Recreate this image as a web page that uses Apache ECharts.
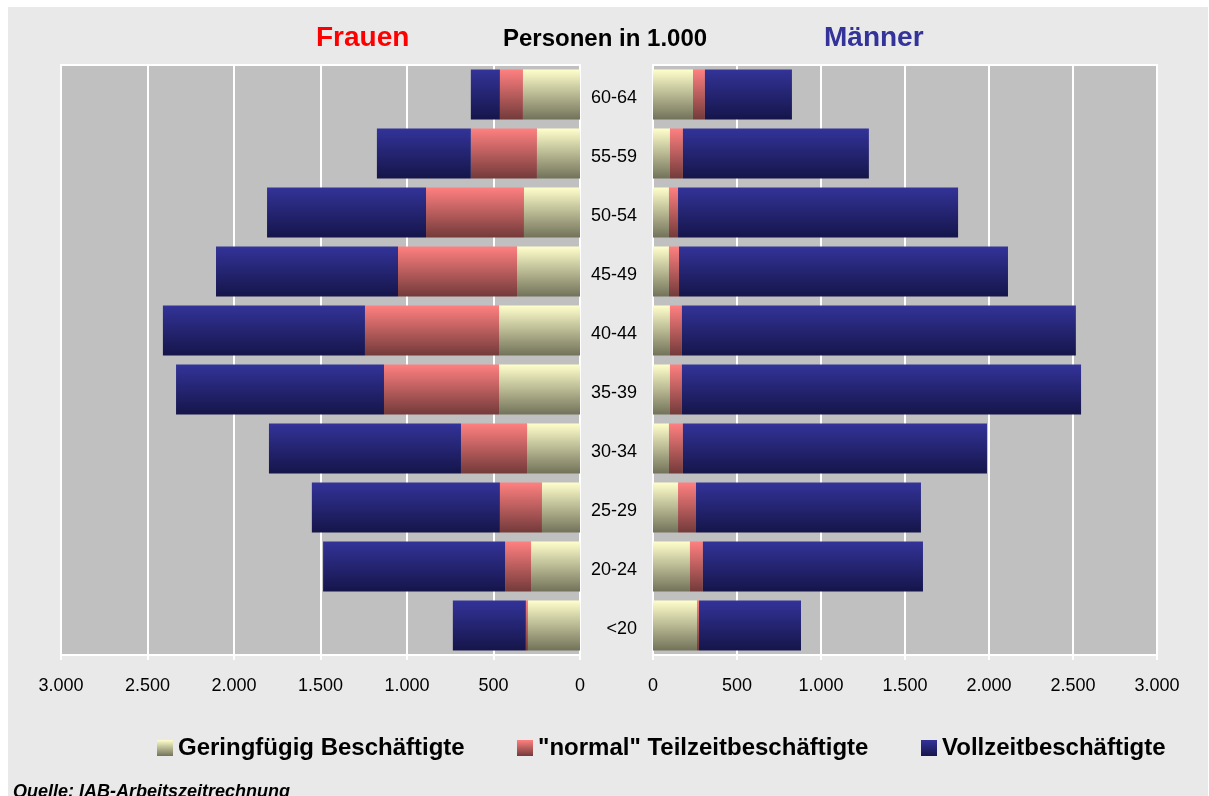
<!DOCTYPE html>
<html>
<head>
<meta charset="utf-8">
<script src="https://cdn.jsdelivr.net/npm/echarts@6/dist/echarts.min.js"></script>
<style>
  body { margin: 0; background: #fff; }
  #back { position: absolute; left: 8px; top: 7px; width: 1200px; height: 789px; background: #e9e9e9; }
  #chart { position: absolute; left: 0; top: 0; width: 1209px; height: 796px; }
</style>
</head>
<body>
<div id="back"></div>
<div id="chart"></div>
<script>
// Altersgruppen, von unten nach oben
var ageGroups = ['<20', '20-24', '25-29', '30-34', '35-39', '40-44', '45-49', '50-54', '55-59', '60-64'];

// Frauen (Personen in 1.000)
var womenMarginal = [301, 283, 220, 306, 468, 468, 364, 324, 249, 330];
var womenPartTime = [12, 150, 243, 382, 665, 775, 688, 566, 382, 133];
var womenFullTime = [422, 1052, 1087, 1110, 1202, 1168, 1052, 919, 543, 168];

// Maenner (Personen in 1.000)
var menMarginal = [262, 220, 149, 95, 101, 101, 95, 95, 101, 238];
var menPartTime = [12, 77, 107, 83, 71, 71, 60, 54, 77, 71];
var menFullTime = [607, 1310, 1339, 1810, 2376, 2345, 1958, 1667, 1107, 518];

var seriesNames = ['Geringfügig Beschäftigte', '"normal" Teilzeitbeschäftigte', 'Vollzeitbeschäftigte'];

var fontName = '"Liberation Sans", Arial, sans-serif';

function grad(top, bottom) {
    return new echarts.graphic.LinearGradient(0, 0, 0, 1, [
        { offset: 0, color: top },
        { offset: 1, color: bottom }
    ]);
}
var colYellow = grad('#ffffcc', '#72725a');
var colPink = grad('#ff8080', '#733a3a');
var colBlue = grad('#333399', '#15154a');

function fmt(v) {
    return String(v).replace(/\B(?=(\d{3})+(?!\d))/g, '.');
}

var chart = echarts.init(document.getElementById('chart'));

var xCommon = {
    type: 'value', min: 0, max: 3000, interval: 500,
    axisLine: { show: false },
    axisTick: { show: true, length: 5, lineStyle: { color: '#fff', width: 2 } },
    axisLabel: { color: '#000', fontSize: 18, fontFamily: fontName, margin: 22, formatter: fmt },
    splitLine: { show: true, lineStyle: { color: '#fff', width: 2 } }
};

function bar(name, data, color, idx, stack) {
    return {
        name: name, type: 'bar', stack: stack,
        xAxisIndex: idx, yAxisIndex: idx,
        barWidth: 50,
        itemStyle: { color: color },
        data: data
    };
}

var legendCommon = {
    top: 736, padding: 0, itemWidth: 16, itemHeight: 16, itemGap: 0,
    icon: 'rect',
    textStyle: { fontSize: 24, fontWeight: 'bold', color: '#000', fontFamily: fontName }
};

chart.setOption({
    animation: false,
    textStyle: { fontFamily: fontName },
    grid: [
        { left: 61, width: 519, top: 65, height: 590, show: true, backgroundColor: '#c0c0c0', borderColor: '#fff', borderWidth: 2 },
        { left: 653, width: 504, top: 65, height: 590, show: true, backgroundColor: '#c0c0c0', borderColor: '#fff', borderWidth: 2 }
    ],
    xAxis: [
        Object.assign({}, xCommon, { gridIndex: 0, inverse: true }),
        Object.assign({}, xCommon, { gridIndex: 1 })
    ],
    yAxis: [
        {
            type: 'category', gridIndex: 0, position: 'right', data: ageGroups,
            axisLine: { lineStyle: { color: '#fff', width: 2 } },
            axisTick: { inside: true, length: 6, lineStyle: { color: '#fff', width: 2 } },
            axisLabel: { show: false }
        },
        {
            type: 'category', gridIndex: 1, position: 'left', data: ageGroups,
            axisLine: { lineStyle: { color: '#fff', width: 2 } },
            axisTick: { length: 6, lineStyle: { color: '#fff', width: 2 } },
            axisLabel: {
                margin: 16,
                formatter: function (v) { return '{a|' + v + '}'; },
                rich: { a: { color: '#000', fontSize: 18, fontFamily: fontName, padding: [8, 0, 0, 0] } }
            }
        }
    ],
    legend: [
        Object.assign({}, legendCommon, { left: 157, data: [seriesNames[0]] }),
        Object.assign({}, legendCommon, { left: 517, data: [seriesNames[1]] }),
        Object.assign({}, legendCommon, { left: 921, data: [seriesNames[2]] })
    ],
    graphic: [
        { type: 'text', left: 316, top: 24, style: { text: 'Frauen', font: 'bold 28px ' + fontName, fill: '#ff0000' } },
        { type: 'text', left: 503, top: 27, style: { text: 'Personen in 1.000', font: 'bold 24px ' + fontName, fill: '#000' } },
        { type: 'text', left: 824, top: 24, style: { text: 'Männer', font: 'bold 28px ' + fontName, fill: '#333399' } },
        { type: 'text', left: 13, top: 783, style: { text: 'Quelle: IAB-Arbeitszeitrechnung', font: 'italic bold 18px ' + fontName, fill: '#000' } }
    ],
    series: [
        bar(seriesNames[0], womenMarginal, colYellow, 0, 'f'),
        bar(seriesNames[1], womenPartTime, colPink, 0, 'f'),
        bar(seriesNames[2], womenFullTime, colBlue, 0, 'f'),
        bar(seriesNames[0], menMarginal, colYellow, 1, 'm'),
        bar(seriesNames[1], menPartTime, colPink, 1, 'm'),
        bar(seriesNames[2], menFullTime, colBlue, 1, 'm')
    ]
});
</script>
</body>
</html>
